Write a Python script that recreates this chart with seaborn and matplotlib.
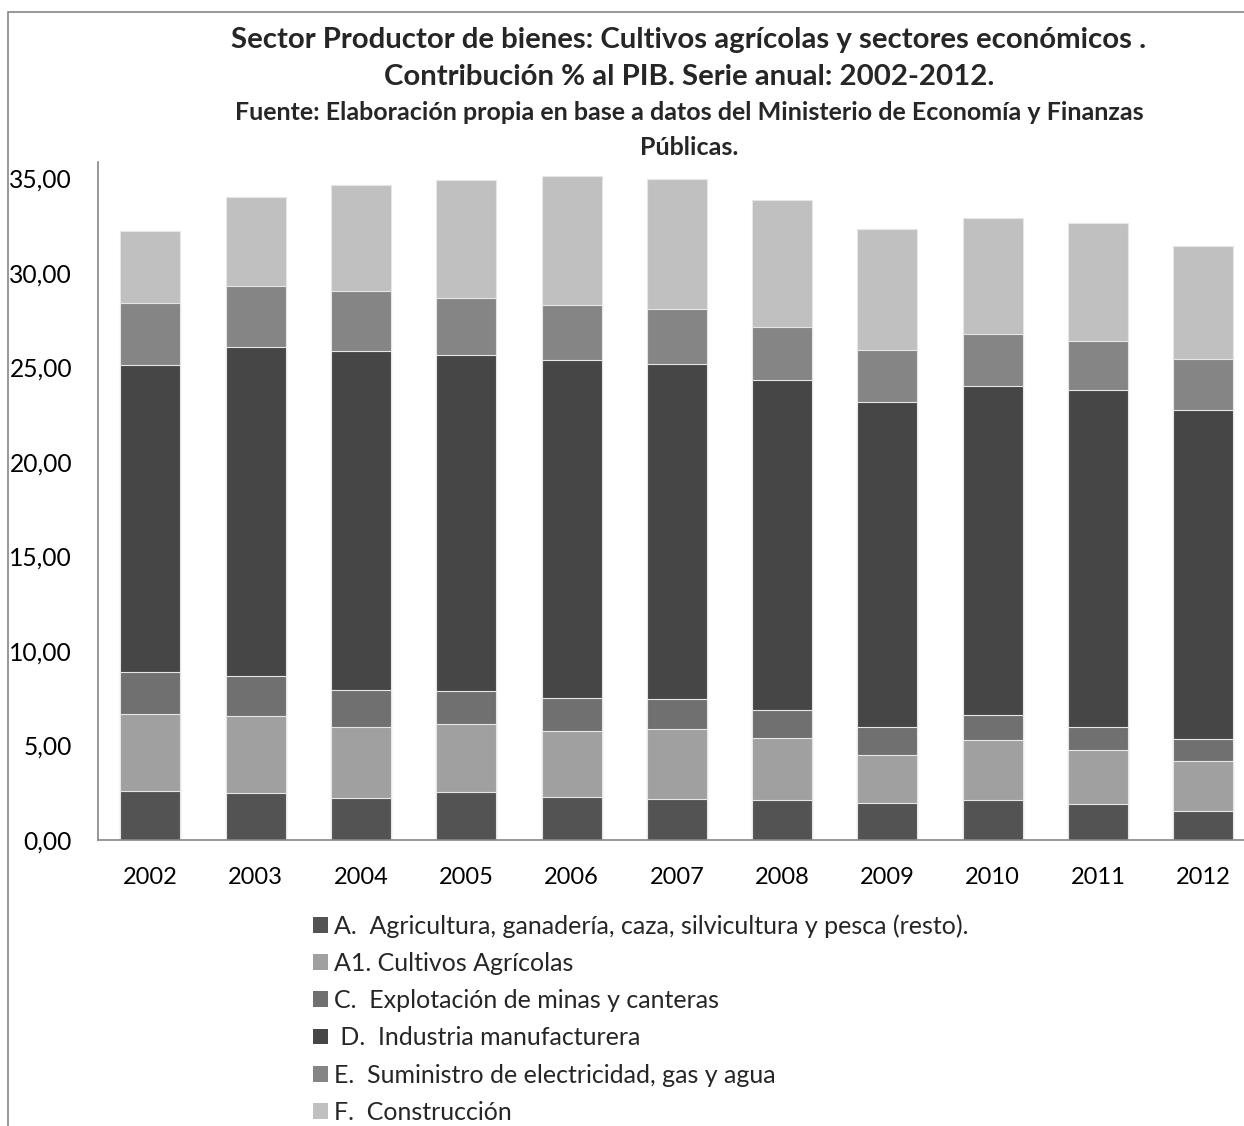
import numpy as np
import pandas as pd
import matplotlib
matplotlib.use("Agg")
import matplotlib.pyplot as plt
import seaborn as sns
from matplotlib.patches import Patch, Rectangle
from matplotlib.ticker import FuncFormatter, MultipleLocator

years = ["2002", "2003", "2004", "2005", "2006", "2007", "2008", "2009", "2010", "2011", "2012"]
series_names = [
    "A.  Agricultura, ganadería, caza, silvicultura y pesca (resto).",
    "A1. Cultivos Agrícolas",
    "C.  Explotación de minas y canteras",
    " D.  Industria manufacturera",
    "E.  Suministro de electricidad, gas y agua",
    "F.  Construcción",
]
agricultura = [2.61, 2.50, 2.24, 2.56, 2.29, 2.19, 2.13, 1.98, 2.13, 1.92, 1.52]
cultivos = [4.06, 4.08, 3.74, 3.56, 3.49, 3.68, 3.27, 2.52, 3.16, 2.84, 2.66]
minas = [2.20, 2.12, 1.96, 1.76, 1.73, 1.57, 1.48, 1.48, 1.32, 1.22, 1.16]
industria = [16.26, 17.40, 17.93, 17.80, 17.90, 17.76, 17.48, 17.21, 17.39, 17.81, 17.43]
electricidad = [3.27, 3.21, 3.16, 3.01, 2.91, 2.91, 2.80, 2.75, 2.76, 2.63, 2.70]
construccion = [3.81, 4.71, 5.63, 6.23, 6.79, 6.85, 6.68, 6.41, 6.15, 6.21, 5.94]

series_values = [agricultura, cultivos, minas, industria, electricidad, construccion]
colors = ["#535353", "#a0a0a0", "#707070", "#464646", "#858585", "#c0c0c0"]

title_lines = ["Sector Productor de bienes: Cultivos agrícolas y sectores económicos .",
               "Contribución % al PIB. Serie anual: 2002-2012."]
subtitle_lines = ["Fuente: Elaboración propia en base a datos del Ministerio de Economía y Finanzas",
                  "Públicas."]

sns.set_theme(style="white")
plt.rcParams["font.family"] = ["Lato", "DejaVu Sans"]

W, H = 1244, 1126
fig = plt.figure(figsize=(W / 100, H / 100), dpi=100)
fig.patch.set_facecolor("white")

# outer chart border (cropped on right/bottom)
fig.patches.append(Rectangle((8 / W, -0.05), 1.2, (H - 12) / H + 0.05,
                             transform=fig.transFigure, fill=False,
                             edgecolor="#868686", linewidth=1.2, zorder=0))

ax_left = 97.7 / W
ax_right = 1256 / W
ax_bottom = (H - 840) / H
ax_top = (H - 162) / H
ax = fig.add_axes([ax_left, ax_bottom, ax_right - ax_left, ax_top - ax_bottom])
ax.set_facecolor("none")

cum = np.cumsum(np.array(series_values), axis=0)
for i in range(len(series_names) - 1, -1, -1):
    df = pd.DataFrame({"year": years, "value": cum[i]})
    sns.barplot(data=df, x="year", y="value", color=colors[i], width=0.57,
                saturation=1, edgecolor="#e6e6e6", linewidth=0.8, ax=ax,
                errorbar=None)

ax.set_xlim(-0.5, len(years) - 0.5)
ax.set_ylim(0, 35.87)
ax.yaxis.set_major_locator(MultipleLocator(5))
ax.yaxis.set_major_formatter(FuncFormatter(lambda v, p: f"{v:.2f}".replace(".", ",")))
ax.set_xlabel("")
ax.set_ylabel("")
for s in ["top", "right"]:
    ax.spines[s].set_visible(False)
for s in ["left", "bottom"]:
    ax.spines[s].set_color("#868686")
    ax.spines[s].set_linewidth(1.2)
ax.tick_params(axis="both", length=0, colors="black")
ax.tick_params(axis="y", pad=18.5, labelsize=17.7)
ax.tick_params(axis="x", pad=19.5, labelsize=17)

cx = 689 / W
fig.text(cx, 1 - 40 / H, title_lines[0], ha="center", va="center", fontsize=21.2,
         fontweight="bold")
fig.text(cx, 1 - 77 / H, title_lines[1], ha="center", va="center", fontsize=21.2,
         fontweight="bold")
fig.text(cx, 1 - 113 / H, subtitle_lines[0], ha="center", va="center", fontsize=18,
         fontweight="bold")
fig.text(cx, 1 - 147 / H, subtitle_lines[1], ha="center", va="center", fontsize=18,
         fontweight="bold")

handles = [Patch(facecolor=c, edgecolor="none") for c in colors]
fig.legend(handles, series_names, loc="upper left",
           bbox_to_anchor=(313 / W, 1 - 914 / H), frameon=False,
           fontsize=18, handlelength=0.6, handleheight=0.6,
           handletextpad=0.22, labelspacing=0.57, borderpad=0, borderaxespad=0)

fig.savefig("out.png", dpi=100, facecolor="white")
